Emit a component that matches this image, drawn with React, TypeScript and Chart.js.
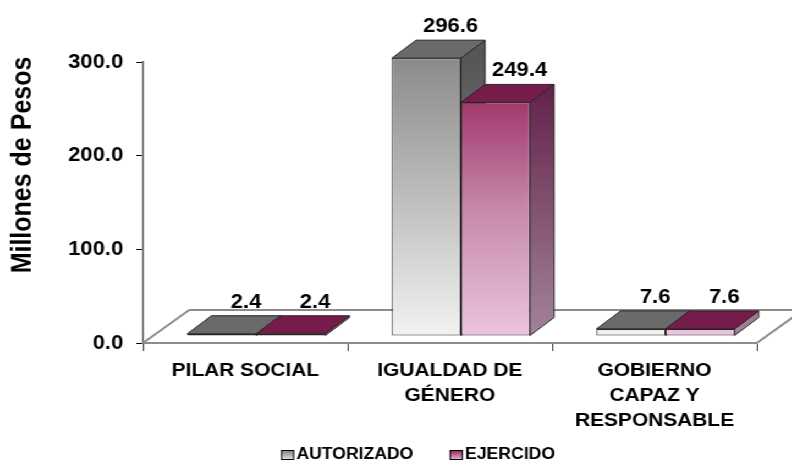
import React, { useEffect, useRef } from 'react';
import Chart from 'chart.js/auto';

// ---- data ----
const categories: string[][] = [
  ['PILAR SOCIAL'],
  ['IGUALDAD DE', 'GÉNERO'],
  ['GOBIERNO', 'CAPAZ Y', 'RESPONSABLE'],
];
const seriesNames = ['AUTORIZADO', 'EJERCIDO'];
const autorizado = [2.4, 296.6, 7.6];
const ejercido = [2.4, 249.4, 7.6];
const yTicks = [0, 100, 200, 300];
const yTitle = 'Millones de Pesos';

// ---- style ----
const FONT = "'Liberation Sans', Arial, Helvetica, sans-serif";
const DEPTH = { dx: 22, dy: -18 };
const SHIFT = { dx: 10, dy: -7 };
const FLOOR = { dx: 42, dy: -33 };
const OUTLINE = '#262626';
const TOP_COLORS = ['#6a6a6a', '#761c4b'];
const SIDE_COLORS = [
  ['#565656', '#9a9a9a'],
  ['#5a1640', '#a3849a'],
];
const LEGEND_GRAD = [
  ['#7a7a7a', '#e6e6e6'],
  ['#8a1f55', '#e8bcd8'],
];

function frontGradient(chart: any, idx: number) {
  const area = chart.chartArea;
  if (!area) return idx === 0 ? '#bdbdbd' : '#c07fa2';
  const g = chart.ctx.createLinearGradient(0, area.top, 0, area.bottom);
  if (idx === 0) {
    g.addColorStop(0, '#8a8a8a');
    g.addColorStop(0.5, '#bdbdbd');
    g.addColorStop(1, '#f2f2f2');
  } else {
    g.addColorStop(0, '#861a50');
    g.addColorStop(0.15, '#a0356a');
    g.addColorStop(0.55, '#c689ab');
    g.addColorStop(1, '#ecc4e0');
  }
  return g;
}

const threeD = {
  id: 'threeD',
  beforeDatasetsDraw(chart: any) {
    const { ctx, scales } = chart;
    const x = scales.x;
    const y = scales.y;
    const y0 = y.getPixelForValue(0);
    // floor
    ctx.save();
    ctx.strokeStyle = '#8c8c8c';
    ctx.lineWidth = 2;
    ctx.beginPath();
    ctx.moveTo(x.left, y0);
    ctx.lineTo(x.left + FLOOR.dx, y0 + FLOOR.dy);
    ctx.lineTo(x.right + FLOOR.dx, y0 + FLOOR.dy);
    ctx.lineTo(x.right, y0);
    ctx.stroke();
    ctx.restore();

    ctx.save();
    ctx.translate(SHIFT.dx, SHIFT.dy);
    const n = chart.data.labels.length;
    for (let i = 0; i < n; i++) {
      for (let d = 0; d < chart.data.datasets.length; d++) {
        const el = chart.getDatasetMeta(d).data[i];
        const p = el.getProps(['x', 'y', 'base', 'width'], true);
        const l = p.x - p.width / 2;
        const r = p.x + p.width / 2;
        const top = p.y;
        const base = p.base;
        ctx.lineWidth = 1;
        ctx.strokeStyle = OUTLINE;
        // side face
        const sg = ctx.createLinearGradient(0, y.top, 0, y0);
        sg.addColorStop(0, SIDE_COLORS[d][0]);
        sg.addColorStop(1, SIDE_COLORS[d][1]);
        ctx.beginPath();
        ctx.moveTo(r, top);
        ctx.lineTo(r + DEPTH.dx, top + DEPTH.dy);
        ctx.lineTo(r + DEPTH.dx, base + DEPTH.dy);
        ctx.lineTo(r, base);
        ctx.closePath();
        ctx.fillStyle = sg;
        ctx.fill();
        ctx.stroke();
        // top face
        ctx.beginPath();
        ctx.moveTo(l, top);
        ctx.lineTo(r, top);
        ctx.lineTo(r + DEPTH.dx, top + DEPTH.dy);
        ctx.lineTo(l + DEPTH.dx, top + DEPTH.dy);
        ctx.closePath();
        ctx.fillStyle = TOP_COLORS[d];
        ctx.fill();
        ctx.stroke();
      }
    }
  },
  afterDatasetsDraw(chart: any) {
    const { ctx } = chart;
    ctx.font = `bold 20px ${FONT}`;
    ctx.fillStyle = '#000';
    ctx.textAlign = 'center';
    ctx.textBaseline = 'alphabetic';
    chart.data.datasets.forEach((ds: any, d: number) => {
      chart.getDatasetMeta(d).data.forEach((el: any, i: number) => {
        const p = el.getProps(['x', 'y'], true);
        ctx.fillText(Number(ds.data[i]).toFixed(1), p.x + DEPTH.dx, p.y + DEPTH.dy - 8);
      });
    });
    ctx.restore();
  },
  afterDraw(chart: any) {
    const { ctx } = chart;
    // y-axis title
    ctx.save();
    ctx.translate(21, 165);
    ctx.rotate(-Math.PI / 2);
    ctx.font = `bold 25px ${FONT}`;
    ctx.fillStyle = '#000';
    ctx.textAlign = 'center';
    ctx.textBaseline = 'middle';
    ctx.fillText(yTitle, 0, 0);
    ctx.restore();

    // legend
    ctx.save();
    ctx.font = `bold 16px ${FONT}`;
    const boxW = 12;
    const boxH = 10;
    const gap = 2;
    const spacing = 33;
    const widths = seriesNames.map((s) => boxW + gap + ctx.measureText(s).width);
    const total = widths.reduce((a, b) => a + b, 0) + spacing * (widths.length - 1);
    let lx = 380 - total / 2;
    const cy = 455;
    seriesNames.forEach((s, i) => {
      const g = ctx.createLinearGradient(0, cy - boxH / 2, 0, cy + boxH / 2);
      g.addColorStop(0, LEGEND_GRAD[i][0]);
      g.addColorStop(1, LEGEND_GRAD[i][1]);
      ctx.fillStyle = g;
      ctx.fillRect(lx, cy - boxH / 2, boxW, boxH);
      ctx.strokeStyle = '#000';
      ctx.lineWidth = 1;
      ctx.strokeRect(lx + 0.5, cy - boxH / 2 + 0.5, boxW - 1, boxH - 1);
      ctx.fillStyle = '#000';
      ctx.textAlign = 'left';
      ctx.textBaseline = 'middle';
      ctx.fillText(s, lx + boxW + gap, cy);
      lx += widths[i] + spacing;
    });
    ctx.restore();
  },
};

export default function App() {
  const ref = useRef<HTMLCanvasElement | null>(null);
  useEffect(() => {
    if (!ref.current) return;
    const chart = new Chart(ref.current, {
      type: 'bar',
      data: {
        labels: categories as any,
        datasets: [
          {
            label: seriesNames[0],
            data: autorizado,
            backgroundColor: (c: any) => frontGradient(c.chart, 0),
            borderColor: OUTLINE,
            borderWidth: 1,
            borderSkipped: false,
            clip: false as any,
          },
          {
            label: seriesNames[1],
            data: ejercido,
            backgroundColor: (c: any) => frontGradient(c.chart, 1),
            borderColor: OUTLINE,
            borderWidth: 1,
            borderSkipped: false,
            clip: false as any,
          },
        ],
      },
      options: {
        animation: false,
        responsive: true,
        maintainAspectRatio: false,
        datasets: { bar: { categoryPercentage: 0.675, barPercentage: 1 } },
        layout: { padding: { left: 0, right: 32, top: 62, bottom: 0 } },
        plugins: {
          tooltip: { enabled: false },
          legend: { display: false },
        },
        scales: {
          x: {
            grid: {
              drawOnChartArea: false,
              drawTicks: true,
              tickLength: 8,
              tickColor: '#333',
              offset: true,
            },
            border: { display: true, color: '#8c8c8c', width: 2 },
            ticks: {
              color: '#000',
              padding: 7,
              maxRotation: 0,
              autoSkip: false,
              font: { family: FONT, size: 19, weight: 'bold', lineHeight: 25 / 19 },
            },
            afterFit: (s: any) => {
              s.height = 118;
            },
          },
          y: {
            min: yTicks[0],
            max: yTicks[yTicks.length - 1],
            afterBuildTicks: (s: any) => {
              s.ticks = yTicks.map((v) => ({ value: v }));
            },
            grid: { drawOnChartArea: false, tickLength: 6, tickColor: '#000' },
            border: { display: true, color: '#7f7f7f', width: 2 },
            ticks: {
              color: '#000',
              padding: 12,
              font: { family: FONT, size: 20, weight: 'bold' },
              callback: (v: any) => Number(v).toFixed(1),
            },
            afterFit: (s: any) => {
              s.width = 130;
            },
          },
        },
      },
      plugins: [threeD],
    });
    return () => chart.destroy();
  }, []);

  return (
    <div
      style={{
        position: 'absolute',
        left: 0,
        top: 0,
        width: 720,
        height: 461,
        transform: 'scaleX(1.1)',
        transformOrigin: '0 0',
        background: '#fff',
      }}
    >
      <canvas ref={ref} />
    </div>
  );
}
